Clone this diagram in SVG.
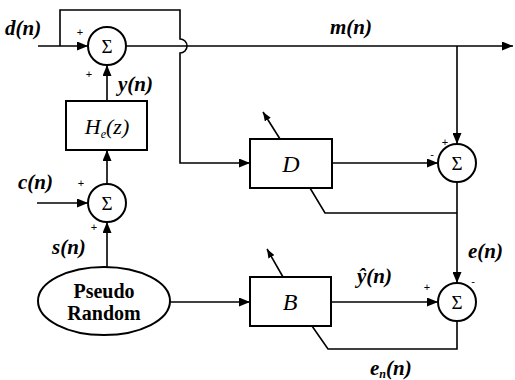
<svg xmlns="http://www.w3.org/2000/svg" width="515" height="380" viewBox="0 0 515 380">
<style>
.ln{fill:none;stroke:#000;stroke-width:1.6}
.bx{fill:#fff;stroke:#000;stroke-width:2}
.lb{font-family:"Liberation Serif",serif;font-style:italic;font-weight:bold;font-size:21px;fill:#000}
.bl{font-family:"Liberation Serif",serif;font-style:italic;font-size:24px;fill:#000}
.sg{font-family:"Liberation Serif",serif;font-size:19px;fill:#000;text-anchor:middle}
.pm{font-family:"Liberation Sans",sans-serif;font-size:11px;fill:#000;text-anchor:middle}
.pr{font-family:"Liberation Serif","DejaVu Serif",serif;font-weight:bold;font-size:20px;fill:#000;text-anchor:middle}
</style>
<defs>
<marker id="ah" markerUnits="userSpaceOnUse" markerWidth="11" markerHeight="9" refX="11" refY="4.5" orient="auto"><path d="M0,0 L11,4.5 L0,9 z" fill="#000"/></marker>
<marker id="as" markerUnits="userSpaceOnUse" markerWidth="9" markerHeight="7" refX="9" refY="3.5" orient="auto"><path d="M0,0 L9,3.5 L0,7 z" fill="#000"/></marker>
</defs>
<g id="connectors">
<path class="ln" d="M38,46 H88" marker-end="url(#ah)"/>
<path class="ln" d="M60,46 V10 H180 V39 A7,7 0 0 1 180,53 V163 H250" marker-end="url(#ah)"/>
<path class="ln" d="M126,46 H513" marker-end="url(#ah)"/>
<path class="ln" d="M457,46 V144" marker-end="url(#ah)"/>
<path class="ln" d="M332,163 H438" marker-end="url(#ah)"/>
<path class="ln" d="M310,188 L325,213 H457"/>
<path class="ln" d="M457,182 V283" marker-end="url(#ah)"/>
<path class="ln" d="M331,302 H438" marker-end="url(#ah)"/>
<path class="ln" d="M457,321 V349 H328 L312,326"/>
<path class="ln" d="M170,302 H250" marker-end="url(#ah)"/>
<path class="ln" d="M107,267 V222" marker-end="url(#ah)"/>
<path class="ln" d="M37,203 H88" marker-end="url(#ah)"/>
<path class="ln" d="M107,184 V150" marker-end="url(#ah)"/>
<path class="ln" d="M107,101 V65" marker-end="url(#ah)"/>
<path class="ln" d="M280,139 L263,112" marker-end="url(#as)"/>
<path class="ln" d="M283,277 L267,249" marker-end="url(#as)"/>
</g>
<g id="sum1"><circle class="bx" cx="107" cy="46" r="19"/><text class="sg" x="107" y="53">Σ</text></g>
<g id="sum2"><circle class="bx" cx="107" cy="203" r="19"/><text class="sg" x="107" y="210">Σ</text></g>
<g id="sum3"><circle class="bx" cx="457" cy="163" r="19"/><text class="sg" x="457" y="170">Σ</text></g>
<g id="sum4"><circle class="bx" cx="457" cy="302" r="19"/><text class="sg" x="457" y="309">Σ</text></g>
<g id="He"><rect class="bx" x="66" y="101" width="81" height="49"/><text class="bl" x="107" y="134" text-anchor="middle" style="font-size:22px">H<tspan font-size="12" dy="4">e</tspan><tspan dy="-4">(z)</tspan></text></g>
<g id="D"><rect class="bx" x="250" y="139" width="82" height="49"/><text class="bl" x="291" y="172" text-anchor="middle">D</text></g>
<g id="B"><rect class="bx" x="250" y="277" width="81" height="49"/><text class="bl" x="290" y="310" text-anchor="middle">B</text></g>
<g id="pseudo"><ellipse class="bx" cx="104" cy="301" rx="66" ry="34"/><text class="pr" x="104" y="298">Pseudo</text><text class="pr" x="104" y="320">Random</text></g>
<g id="labels">
<text class="lb" x="5" y="35">d(n)</text>
<text class="pm" x="80" y="36">+</text>
<text class="pm" x="89" y="78">+</text>
<text class="lb" x="118" y="91">y(n)</text>
<text class="lb" x="330" y="34">m(n)</text>
<text class="lb" x="18" y="189">c(n)</text>
<text class="pm" x="81" y="187">+</text>
<text class="lb" x="52" y="254">s(n)</text>
<text class="pm" x="94" y="231">+</text>
<text class="pm" x="445" y="146">+</text>
<text class="pm" x="432" y="158">-</text>
<text class="lb" x="468" y="258">e(n)</text>
<text class="lb" x="357" y="283">ŷ(n)</text>
<text class="pm" x="427" y="291">+</text>
<text class="pm" x="473" y="285">-</text>
<text class="lb" x="370" y="375">e<tspan font-size="12" dy="3">n</tspan><tspan dy="-3">(n)</tspan></text>
</g>
</svg>
